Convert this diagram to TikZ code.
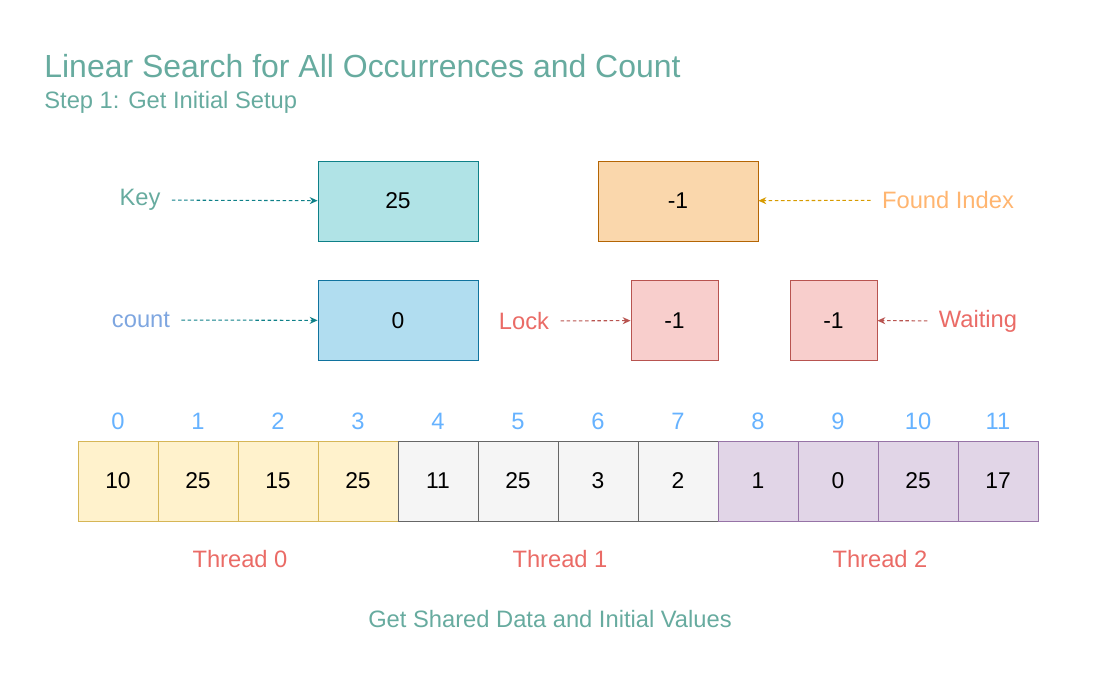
\documentclass[tikz,border=0pt]{standalone}
\usepackage{fontspec}
\setmainfont{Liberation Sans}
\usetikzlibrary{arrows.meta,positioning}
\definecolor{titlegreen}{HTML}{67AB9F}
\definecolor{keyfill}{HTML}{B0E3E6}
\definecolor{keydraw}{HTML}{0E8088}
\definecolor{foundfill}{HTML}{FAD7AC}
\definecolor{founddraw}{HTML}{B46504}
\definecolor{foundtext}{HTML}{FFB570}
\definecolor{foundarrow}{HTML}{D79B00}
\definecolor{countfill}{HTML}{B1DDF0}
\definecolor{countdraw}{HTML}{10739E}
\definecolor{counttext}{HTML}{7EA6E0}
\definecolor{lockfill}{HTML}{F8CECC}
\definecolor{lockdraw}{HTML}{B85450}
\definecolor{locktext}{HTML}{EA6B66}
\definecolor{yelfill}{HTML}{FFF2CC}
\definecolor{yeldraw}{HTML}{D6B656}
\definecolor{grayfill}{HTML}{F5F5F5}
\definecolor{graydraw}{HTML}{666666}
\definecolor{purpfill}{HTML}{E1D5E7}
\definecolor{purpdraw}{HTML}{9673A6}
\definecolor{idxblue}{HTML}{66B2FF}

\begin{document}
\begin{tikzpicture}[x=0.02cm, y=-0.02cm, every node/.style={font=\fontsize{13}{15}\selectfont},
    valbox/.style={draw, line width=0.5pt, minimum height=1.6cm, inner sep=0pt},
    widebox/.style={valbox, minimum width=3.2cm},
    smallbox/.style={valbox, minimum width=1.74cm},
    cellbox/.style={draw, line width=0.5pt, minimum width=1.6cm, minimum height=1.6cm, inner sep=0pt},
    tag/.style={font=\fontsize{13.5}{16}\selectfont},
    pointer/.style={dash pattern=on 2pt off 1.5pt, line width=0.6pt, shorten <=3pt, -{Stealth[length=4.5pt,width=4pt]}}]
    \useasboundingbox (0,0) rectangle (1100,700);

    % Titles
    \node[anchor=west, inner sep=0pt, text=titlegreen, font=\fontsize{18.2}{21}\selectfont] (title) at (44,66) {Linear Search for All Occurrences and Count};
    \node[anchor=west, inner sep=0pt, text=titlegreen, font=\fontsize{13.5}{16}\selectfont] (subtitle) at (44,102) {Step 1: Get Initial Setup};

    % Variables
    \node[widebox, fill=keyfill, draw=keydraw] (key) at (398,201) {25};
    \node[widebox, fill=foundfill, draw=founddraw] (found) at (678,201) {-1};
    \node[widebox, fill=countfill, draw=countdraw] (count) at (398,320.5) {0};
    \node[smallbox, fill=lockfill, draw=lockdraw] (lock) at (674.5,320.5) {-1};
    \node[smallbox, fill=lockfill, draw=lockdraw] (wait) at (833.5,320.5) {-1};

    % Labels
    \node[tag, text=titlegreen] (keylbl) at (140,200) {Key};
    \node[tag, text=foundtext] (foundlbl) at (948,200) {Found Index};
    \node[tag, text=counttext] (countlbl) at (141,320) {count};
    \node[tag, text=locktext] (locklbl) at (524,321) {Lock};
    \node[tag, text=locktext] (waitlbl) at (978,321) {Waiting};

    % Pointers
    \draw[pointer, keydraw] (keylbl) -- (key);
    \draw[pointer, foundarrow] (foundlbl) -- (found);
    \draw[pointer, keydraw] (countlbl) -- (count);
    \draw[pointer, lockdraw] (locklbl) -- (lock);
    \draw[pointer, lockdraw] (waitlbl) -- (wait);

    % Array
    \foreach \v [count=\i from 0] in {10,25,15,25,11,25,3,2,1,0,25,17} {
        \ifnum\i<4 \def\cf{yelfill}\def\cd{yeldraw}\else
        \ifnum\i<8 \def\cf{grayfill}\def\cd{graydraw}\else
        \def\cf{purpfill}\def\cd{purpdraw}\fi\fi
        \node[cellbox, fill=\cf, draw=\cd] (cell\i) at (118+80*\i,481) {\v};
        \node[tag, text=idxblue, above=0.1cm of cell\i] (idx\i) {\i};
    }

    % Threads
    \node[tag, text=locktext] (thread0) at (240,559) {Thread 0};
    \node[tag, text=locktext] (thread1) at (560,559) {Thread 1};
    \node[tag, text=locktext] (thread2) at (880,559) {Thread 2};

    % Footer
    \node[tag, text=titlegreen] (footer) at (550,619) {Get Shared Data and Initial Values};
\end{tikzpicture}
\end{document}
